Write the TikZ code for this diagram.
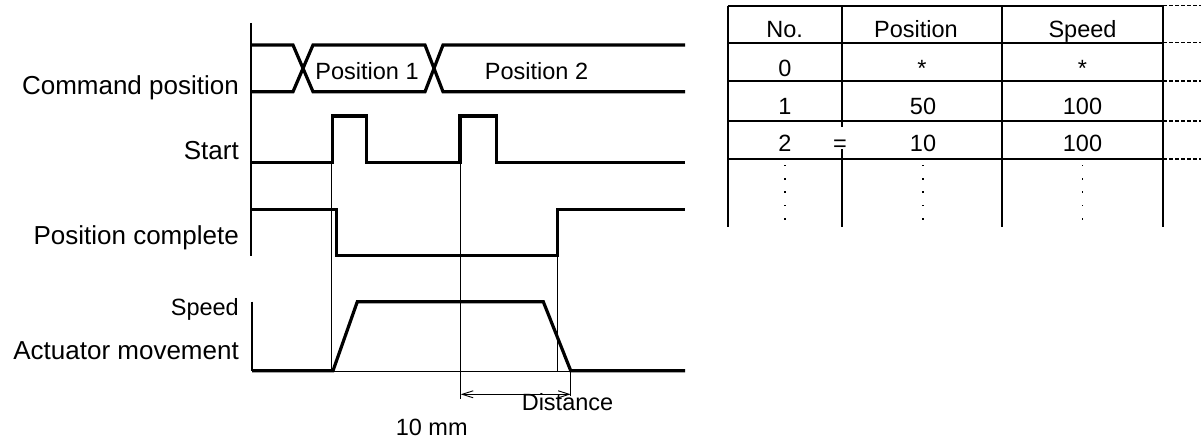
\documentclass[tikz,border=0pt]{standalone}
\usepackage{fontspec}
\setmainfont{Liberation Sans}
\usepackage{tikz}
\usetikzlibrary{arrows.meta}
\newcommand{\lblfont}{\fontsize{26}{30}\selectfont}
\newcommand{\txtfont}{\fontsize{23.5}{28}\selectfont}
\tikzset{
  sig/.style={line width=3.2pt},
  guide/.style={line width=0.9pt},
  axis/.style={line width=1.1pt},
  grid/.style={line width=2pt},
  dashgrid/.style={line width=1.3pt, dash pattern=on 4pt off 2pt},
  lbl/.style={font=\lblfont, anchor=base east, inner sep=0},
  txt/.style={font=\txtfont, anchor=base, inner sep=0},
}

\begin{document}
\begin{tikzpicture}[x=1pt, y=-1pt,
    dimarr/.style={{Straight Barb[length=11pt,width=7pt]}-{Straight Barb[length=11pt,width=7pt]}, line width=0.9pt}
  ]
  \useasboundingbox (0,0) rectangle (1201,438);
  % signal names
  \node[lbl] (lcmd) at (239,95) {Command position};
  \node[lbl] (lstart) at (239,159.3) {Start};
  \node[lbl] (lcomp) at (239,245) {Position complete};
  \node[txt, anchor=base east] (lspeed) at (239,315) {Speed};
  \node[lbl] (lact) at (239,359) {Actuator movement};
  % axes
  \draw[axis] (251,23) -- (251,255.7);
  \draw[axis] (252,301.7) -- (252,370.7);
  % command position bus
  \draw[sig] (251,45) -- (293,45) -- (313,91.7) -- (425,91.7) -- (443,45) -- (685,45);
  \draw[sig] (251,91.7) -- (293,91.7) -- (313,45) -- (425,45) -- (443,91.7) -- (685,91.7);
  \node[txt] (pos1) at (367,80) {Position 1};
  \node[txt] (pos2) at (536.5,80) {Position 2};
  % start pulses
  \draw[sig] (251,162.7) -- (332.3,162.7) -- (332.3,116) -- (366.7,116) -- (366.7,162.7)
    -- (460,162.7) -- (460,116) -- (496.7,116) -- (496.7,162.7) -- (685,162.7);
  % position complete
  \draw[sig] (251,209.3) -- (336.7,209.3) -- (336.7,255.7) -- (557.3,255.7)
    -- (557.3,209.3) -- (685,209.3);
  % thin guides
  \draw[guide] (331.7,162.7) -- (331.7,370.7);
  \draw[guide] (460.7,162.7) -- (460.7,399.3);
  \draw[guide] (557.3,255.7) -- (557.3,371.7);
  \draw[guide] (570.7,370.7) -- (570.7,396);
  \draw[guide] (333,371) -- (570.7,371);
  % actuator speed profile
  \draw[sig] (252,370.7) -- (333,370.7) -- (357.3,301.7) -- (543.3,301.7)
    -- (570.7,370.7) -- (685,370.7);
  % distance
  \coordinate (dL) at (460.7,394.3);
  \coordinate (dR) at (570.7,394.3);
  \draw[dimarr] (dL) -- (dR);
  \node[txt] (dist) at (567.5,410) {Distance};
  \node[txt] (tenmm) at (431.7,435) {10 mm};
  % table
  \foreach \y in {5.7,42.7,81,121,159} {
    \draw[grid] (727.7,\y) -- (1163,\y);
    \draw[dashgrid] (1163,\y) -- (1201,\y);
  }
  \foreach \x in {727.7,1002,1163} \draw[grid] (\x,5.7) -- (\x,226.7);
  \draw[grid] (842,5.7) -- (842,126.7);
  \draw[grid] (842,149.3) -- (842,226.7);
  \node[txt] (hno) at (784.7,37.7) {No.};
  \node[txt] (hpos) at (916,37.7) {Position};
  \node[txt] (hspd) at (1082.5,37.7) {Speed};
  \node[txt] (n0) at (785,76.7) {0};
  \node[txt] (p0) at (922,76.7) {*};
  \node[txt] (s0) at (1082.5,76.7) {*};
  \node[txt] (n1) at (785,115) {1};
  \node[txt] (p1) at (923,115) {50};
  \node[txt] (s1) at (1082.5,115) {100};
  \node[txt] (n2) at (785,151.7) {2};
  \node[txt] (eq) at (840,151.7) {=};
  \node[txt] (p2) at (923,151.7) {10};
  \node[txt] (s2) at (1082.5,151.7) {100};
  \foreach \x in {785,922.7,1082.5}
    \foreach \y in {165.7,179,192.3,205.7,219}
      \fill (\x-0.8,\y-0.8) rectangle (\x+0.8,\y+0.8);
\end{tikzpicture}
\end{document}
